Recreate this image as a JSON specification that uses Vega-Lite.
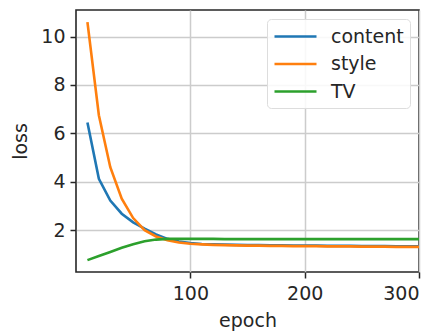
{
  "$schema": "https://vega.github.io/schema/vega-lite/v6.json",
  "width": 343,
  "height": 262,
  "autosize": {"type": "none"},
  "padding": {"left": 76, "top": 10, "right": 20, "bottom": 63},
  "background": "white",
  "config": {
    "font": "DejaVu Sans",
    "view": {"stroke": "#262626", "strokeWidth": 1.6},
    "axis": {
      "labelFont": "DejaVu Sans",
      "titleFont": "DejaVu Sans",
      "labelFontSize": 19,
      "titleFontSize": 19,
      "titleFontWeight": "normal",
      "labelColor": "#262626",
      "titleColor": "#262626",
      "domain": false,
      "tickColor": "#262626",
      "tickWidth": 1.5,
      "tickSize": 6,
      "gridColor": "#cccccc",
      "gridWidth": 1.5
    },
    "legend": {
      "labelFont": "DejaVu Sans",
      "labelFontSize": 19,
      "labelColor": "#262626"
    }
  },
  "data": {
    "values": [
      {"epoch": 10, "series": "content", "loss": 6.45},
      {"epoch": 20, "series": "content", "loss": 4.12},
      {"epoch": 30, "series": "content", "loss": 3.22},
      {"epoch": 40, "series": "content", "loss": 2.68},
      {"epoch": 50, "series": "content", "loss": 2.32},
      {"epoch": 60, "series": "content", "loss": 2.06},
      {"epoch": 70, "series": "content", "loss": 1.82},
      {"epoch": 80, "series": "content", "loss": 1.64},
      {"epoch": 90, "series": "content", "loss": 1.53},
      {"epoch": 100, "series": "content", "loss": 1.47},
      {"epoch": 110, "series": "content", "loss": 1.43},
      {"epoch": 120, "series": "content", "loss": 1.41},
      {"epoch": 130, "series": "content", "loss": 1.4},
      {"epoch": 140, "series": "content", "loss": 1.39},
      {"epoch": 150, "series": "content", "loss": 1.38},
      {"epoch": 160, "series": "content", "loss": 1.38},
      {"epoch": 170, "series": "content", "loss": 1.37},
      {"epoch": 180, "series": "content", "loss": 1.37},
      {"epoch": 190, "series": "content", "loss": 1.36},
      {"epoch": 200, "series": "content", "loss": 1.36},
      {"epoch": 210, "series": "content", "loss": 1.36},
      {"epoch": 220, "series": "content", "loss": 1.35},
      {"epoch": 230, "series": "content", "loss": 1.35},
      {"epoch": 240, "series": "content", "loss": 1.35},
      {"epoch": 250, "series": "content", "loss": 1.34},
      {"epoch": 260, "series": "content", "loss": 1.34},
      {"epoch": 270, "series": "content", "loss": 1.34},
      {"epoch": 280, "series": "content", "loss": 1.33},
      {"epoch": 290, "series": "content", "loss": 1.33},
      {"epoch": 300, "series": "content", "loss": 1.33},
      {"epoch": 10, "series": "style", "loss": 10.6},
      {"epoch": 20, "series": "style", "loss": 6.75},
      {"epoch": 30, "series": "style", "loss": 4.6},
      {"epoch": 40, "series": "style", "loss": 3.3},
      {"epoch": 50, "series": "style", "loss": 2.5},
      {"epoch": 60, "series": "style", "loss": 2.0},
      {"epoch": 70, "series": "style", "loss": 1.74},
      {"epoch": 80, "series": "style", "loss": 1.58},
      {"epoch": 90, "series": "style", "loss": 1.49},
      {"epoch": 100, "series": "style", "loss": 1.44},
      {"epoch": 110, "series": "style", "loss": 1.41},
      {"epoch": 120, "series": "style", "loss": 1.39},
      {"epoch": 130, "series": "style", "loss": 1.38},
      {"epoch": 140, "series": "style", "loss": 1.37},
      {"epoch": 150, "series": "style", "loss": 1.36},
      {"epoch": 160, "series": "style", "loss": 1.36},
      {"epoch": 170, "series": "style", "loss": 1.35},
      {"epoch": 180, "series": "style", "loss": 1.35},
      {"epoch": 190, "series": "style", "loss": 1.34},
      {"epoch": 200, "series": "style", "loss": 1.34},
      {"epoch": 210, "series": "style", "loss": 1.34},
      {"epoch": 220, "series": "style", "loss": 1.33},
      {"epoch": 230, "series": "style", "loss": 1.33},
      {"epoch": 240, "series": "style", "loss": 1.33},
      {"epoch": 250, "series": "style", "loss": 1.32},
      {"epoch": 260, "series": "style", "loss": 1.32},
      {"epoch": 270, "series": "style", "loss": 1.32},
      {"epoch": 280, "series": "style", "loss": 1.31},
      {"epoch": 290, "series": "style", "loss": 1.31},
      {"epoch": 300, "series": "style", "loss": 1.31},
      {"epoch": 10, "series": "TV", "loss": 0.76},
      {"epoch": 20, "series": "TV", "loss": 0.93},
      {"epoch": 30, "series": "TV", "loss": 1.1},
      {"epoch": 40, "series": "TV", "loss": 1.27},
      {"epoch": 50, "series": "TV", "loss": 1.42},
      {"epoch": 60, "series": "TV", "loss": 1.54},
      {"epoch": 70, "series": "TV", "loss": 1.61},
      {"epoch": 80, "series": "TV", "loss": 1.64},
      {"epoch": 90, "series": "TV", "loss": 1.64},
      {"epoch": 100, "series": "TV", "loss": 1.64},
      {"epoch": 110, "series": "TV", "loss": 1.64},
      {"epoch": 120, "series": "TV", "loss": 1.64},
      {"epoch": 130, "series": "TV", "loss": 1.63},
      {"epoch": 140, "series": "TV", "loss": 1.63},
      {"epoch": 150, "series": "TV", "loss": 1.63},
      {"epoch": 160, "series": "TV", "loss": 1.63},
      {"epoch": 170, "series": "TV", "loss": 1.63},
      {"epoch": 180, "series": "TV", "loss": 1.63},
      {"epoch": 190, "series": "TV", "loss": 1.63},
      {"epoch": 200, "series": "TV", "loss": 1.63},
      {"epoch": 210, "series": "TV", "loss": 1.63},
      {"epoch": 220, "series": "TV", "loss": 1.63},
      {"epoch": 230, "series": "TV", "loss": 1.63},
      {"epoch": 240, "series": "TV", "loss": 1.63},
      {"epoch": 250, "series": "TV", "loss": 1.63},
      {"epoch": 260, "series": "TV", "loss": 1.63},
      {"epoch": 270, "series": "TV", "loss": 1.63},
      {"epoch": 280, "series": "TV", "loss": 1.63},
      {"epoch": 290, "series": "TV", "loss": 1.63},
      {"epoch": 300, "series": "TV", "loss": 1.63}
    ]
  },
  "mark": {"type": "line", "strokeWidth": 2.6, "clip": true},
  "encoding": {
    "x": {
      "field": "epoch",
      "type": "quantitative",
      "scale": {"domain": [0, 300], "nice": false, "zero": false},
      "axis": {"values": [100, 200, 300], "title": "epoch", "labelPadding": 6, "titlePadding": 8}
    },
    "y": {
      "field": "loss",
      "type": "quantitative",
      "scale": {"domain": [0.27, 11.1], "nice": false, "zero": false},
      "axis": {"values": [2, 4, 6, 8, 10], "title": "loss", "labelPadding": 5, "titlePadding": 10}
    },
    "color": {
      "field": "series",
      "type": "nominal",
      "sort": ["content", "style", "TV"],
      "scale": {"domain": ["content", "style", "TV"], "range": ["#1f77b4", "#ff7f0e", "#2ca02c"]},
      "legend": {
        "title": null,
        "orient": "none",
        "legendX": 191,
        "legendY": 9,
        "symbolType": "M-1,0H3.2",
        "symbolSize": 400,
        "symbolStrokeWidth": 2.6,
        "labelOffset": 35,
        "padding": 6,
        "rowPadding": 5.5,
        "fillColor": "rgba(255,255,255,0.85)",
        "strokeColor": "#dddddd",
        "cornerRadius": 4
      }
    }
  }
}
